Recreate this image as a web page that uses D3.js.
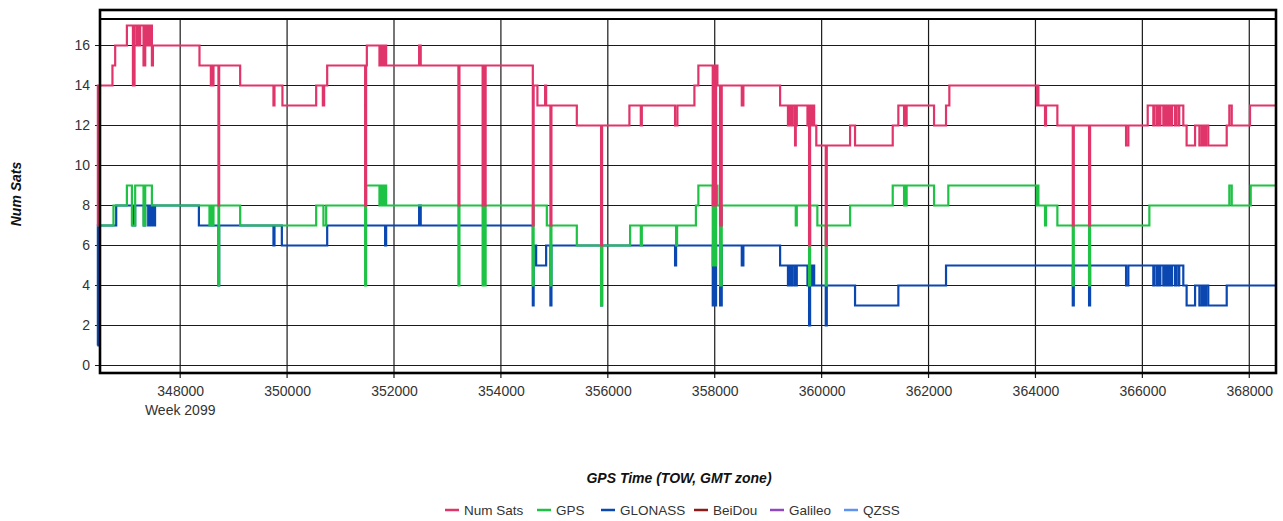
<!DOCTYPE html>
<html><head><meta charset="utf-8">
<script src="https://cdn.jsdelivr.net/npm/d3@7"></script>
<style>
body{margin:0;background:#fff}
svg{display:block}
text{font-family:"Liberation Sans",Arial,Helvetica,sans-serif}
</style>
</head><body>
<svg id="chart" width="1283" height="521"></svg>
<script>
// ---------- data ----------
const seriesNames = ["Num Sats", "GPS", "GLONASS", "BeiDou", "Galileo", "QZSS"];
const xTickValues = [348000, 350000, 352000, 354000, 356000, 358000, 360000, 362000, 364000, 366000, 368000];
const yTickValues = [0, 2, 4, 6, 8, 10, 12, 14, 16];
const weekLabel = "Week 2099";
const xTitle = "GPS Time (TOW, GMT zone)";
const yTitle = "Num Sats";

const numSats = [[346450,7],[346460,14],[346733,15],[346784,16],[347003,17],[347116,14],[347146,17],[347190,16],[347200,17],[347215,16],[347228,17],[347240,16],[347252,17],[347314,15],[347346,17],[347364,16],[347376,17],[347390,16],[347402,17],[347415,16],[347428,17],[347440,16],[347455,17],[347471,15],[347490,16],[348361,15],[348574,14],[348590,15],[348605,14],[348623,15],[348716,8],[348729,15],[349122,14],[349745,13],[349764,14],[349913,13],[350544,14],[350669,13],[350693,14],[350750,15],[351460,8],[351478,15],[351492,16],[351728,15],[351750,16],[351773,15],[351797,16],[351821,15],[351840,16],[351853,15],[352470,16],[352500,15],[353205,8],[353224,15],[353658,8],[353677,15],[353695,8],[353714,15],[354597,7],[354612,14],[354683,13],[354827,14],[354846,13],[354926,7],[354945,13],[355420,12],[355874,6],[355893,12],[356404,13],[356617,12],[356636,13],[357258,12],[357302,13],[357620,14],[357694,15],[357963,8],[357982,15],[358000,8],[358025,15],[358050,14],[358100,7],[358131,14],[358506,13],[358536,14],[359223,13],[359370,12],[359385,13],[359400,12],[359420,13],[359440,12],[359460,13],[359503,11],[359516,12],[359535,13],[359735,12],[359755,13],[359765,6],[359784,12],[359800,13],[359820,12],[359840,13],[359860,12],[359877,12],[359900,11],[360077,6],[360096,11],[360532,12],[360625,11],[361330,12],[361435,13],[361542,12],[361560,13],[361575,12],[361590,13],[362103,12],[362327,13],[362389,14],[364024,13],[364040,14],[364055,13],[364179,12],[364198,13],[364410,12],[364698,7],[364717,12],[365003,7],[365022,12],[365695,11],[365738,12],[366100,13],[366205,12],[366222,13],[366268,12],[366285,13],[366318,12],[366337,13],[366392,12],[366410,13],[366428,12],[366446,13],[366464,12],[366482,13],[366500,12],[366518,13],[366536,12],[366554,13],[366610,12],[366628,13],[366672,12],[366690,13],[366766,12],[366828,11],[366986,12],[367067,11],[367110,12],[367130,11],[367150,12],[367170,11],[367190,12],[367233,11],[367578,12],[367627,13],[367672,12],[368014,13],[368500,13]];

const gps = [[346450,7],[346752,8],[347003,9],[347097,7],[347158,9],[347314,7],[347346,9],[347471,8],[348548,7],[348574,8],[348590,7],[348623,8],[348716,4],[348729,8],[349122,7],[350544,8],[350680,7],[350731,8],[351460,4],[351478,9],[351728,8],[351750,9],[351773,8],[351797,9],[351821,8],[351840,9],[351853,8],[353205,4],[353224,8],[353658,4],[353677,8],[353695,4],[353714,8],[354597,4],[354612,8],[354859,7],[354926,4],[354945,7],[355420,6],[355874,3],[355893,6],[356417,7],[356617,6],[356636,7],[357277,6],[357296,7],[357648,8],[357694,9],[357963,5],[357982,9],[358000,5],[358025,9],[358050,8],[358100,4],[358131,8],[359516,7],[359535,8],[359765,4],[359784,8],[359920,7],[360077,4],[360096,7],[360532,8],[361330,9],[361542,8],[361560,9],[361575,8],[361590,9],[362103,8],[362370,9],[364024,8],[364040,9],[364055,8],[364179,7],[364198,8],[364410,7],[364698,4],[364717,7],[365003,4],[365022,7],[366131,8],[367627,9],[367672,8],[368027,9],[368500,9]];

const glonass = [[346450,1],[346460,7],[346803,8],[347116,7],[347158,8],[347320,7],[347346,8],[347402,7],[347420,8],[347440,7],[347458,8],[347478,7],[347498,8],[347515,7],[347530,8],[348350,7],[348716,4],[348729,7],[349745,6],[349764,7],[349902,6],[350750,7],[351834,6],[351853,7],[352470,8],[352500,7],[354597,3],[354612,6],[354659,5],[354846,6],[354926,3],[354945,6],[355874,3],[355893,6],[357258,5],[357277,6],[357963,3],[357982,6],[358000,3],[358025,6],[358100,3],[358131,6],[358506,5],[358536,6],[359223,5],[359370,4],[359385,5],[359400,4],[359420,5],[359440,4],[359460,5],[359503,4],[359535,5],[359735,4],[359755,5],[359765,2],[359784,4],[359800,5],[359820,4],[359840,5],[359860,4],[360077,2],[360096,4],[360625,3],[361435,4],[362327,5],[364698,3],[364717,5],[365003,3],[365022,5],[365695,4],[365738,5],[366205,4],[366222,5],[366268,4],[366285,5],[366318,4],[366337,5],[366392,4],[366410,5],[366428,4],[366446,5],[366464,4],[366482,5],[366500,4],[366518,5],[366536,4],[366554,5],[366610,4],[366628,5],[366672,4],[366690,5],[366766,4],[366828,3],[366986,4],[367067,3],[367110,4],[367130,3],[367150,4],[367170,3],[367190,4],[367233,3],[367578,4],[368500,4]];

const beidou = [];
const galileo = [];
const qzss = [];

// ---------- styles ----------
const seriesColors = ["#e0356b", "#1ec244", "#0b47b1", "#8b1a1a", "#9048c0", "#5f93ee"];
const seriesData = [numSats, gps, glonass, beidou, galileo, qzss];

const svg = d3.select("#chart");
const W = 1283, H = 521;
const L = 100, R = 1276, T = 19, B = 373, frameTop = 10;

const x = d3.scaleLinear().domain([346500, 368500]).range([L, R]);
const y = d3.scaleLinear().domain([-0.375, 17.325]).range([B, T]);

svg.append("rect").attr("width", W).attr("height", H).attr("fill", "#fff");

// grid
const grid = svg.append("g");
grid.selectAll("line.h").data(yTickValues).join("line")
  .attr("x1", L - 5).attr("x2", R).attr("y1", d => y(d)).attr("y2", d => y(d))
  .attr("stroke", "#1a1a1a").attr("stroke-width", 1.2);
grid.selectAll("line.v").data(xTickValues).join("line")
  .attr("y1", T).attr("y2", B + 5).attr("x1", d => x(d)).attr("x2", d => x(d))
  .attr("stroke", "#1a1a1a").attr("stroke-width", 1.2);

// y axis labels
const yAxis = d3.axisLeft(y).tickValues(yTickValues).tickSize(0).tickPadding(10).tickFormat(d3.format("d"));
const gy = svg.append("g").attr("transform", `translate(${L},0)`).call(yAxis);
gy.select(".domain").remove();
gy.selectAll("text").attr("font-size", 14).attr("fill", "#333").attr("font-family", '"Liberation Sans",Arial,sans-serif');

// x axis labels
const xAxis = d3.axisBottom(x).tickValues(xTickValues).tickSize(0).tickPadding(13).tickFormat(d3.format("d"));
const gx = svg.append("g").attr("transform", `translate(0,${B})`).call(xAxis);
gx.select(".domain").remove();
gx.selectAll("text").attr("font-size", 14).attr("fill", "#333").attr("font-family", '"Liberation Sans",Arial,sans-serif');

svg.append("text").attr("x", x(xTickValues[0])).attr("y", 415).attr("text-anchor", "middle")
  .attr("font-size", 14).attr("fill", "#333").text(weekLabel);

// lines
svg.append("clipPath").attr("id", "plotclip").append("rect")
  .attr("x", L - 5).attr("y", T).attr("width", R - L + 5).attr("height", B - T);
const line = d3.line().x(d => x(d[0])).y(d => y(d[1])).curve(d3.curveStepAfter);
const linesG = svg.append("g").attr("clip-path", "url(#plotclip)");
for (let i = seriesData.length - 1; i >= 0; i--) {
  if (!seriesData[i].length) continue;
  linesG.append("path").datum(seriesData[i]).attr("d", line)
    .attr("fill", "none").attr("stroke", seriesColors[i]).attr("stroke-width", 2.2)
    .attr("stroke-linejoin", "miter");
}

// frame
svg.append("line").attr("x1", L).attr("x2", R).attr("y1", T).attr("y2", T).attr("stroke", "#000").attr("stroke-width", 2.2);
svg.append("rect").attr("x", L).attr("y", frameTop).attr("width", R - L).attr("height", B - frameTop)
  .attr("fill", "none").attr("stroke", "#000").attr("stroke-width", 2.6);

// titles
svg.append("text").attr("x", 679).attr("y", 483).attr("text-anchor", "middle")
  .attr("font-size", 14).attr("font-weight", "bold").attr("font-style", "italic").attr("fill", "#111").text(xTitle);
svg.append("text").attr("transform", "translate(21,194) rotate(-90)").attr("text-anchor", "middle")
  .attr("font-size", 14).attr("font-weight", "bold").attr("font-style", "italic").attr("fill", "#111").text(yTitle);

// legend
const legendX = [445, 537, 601, 694, 770, 844];
const lg = svg.append("g");
seriesNames.forEach((n, i) => {
  const g = lg.append("g").attr("transform", `translate(${legendX[i]},510)`);
  g.append("line").attr("x1", 0).attr("x2", 14).attr("y1", 0).attr("y2", 0)
    .attr("stroke", seriesColors[i]).attr("stroke-width", 2.5);
  g.append("text").attr("x", 19).attr("y", 5).attr("font-size", 13.5).attr("fill", "#333").text(n);
});
</script>
</body></html>
